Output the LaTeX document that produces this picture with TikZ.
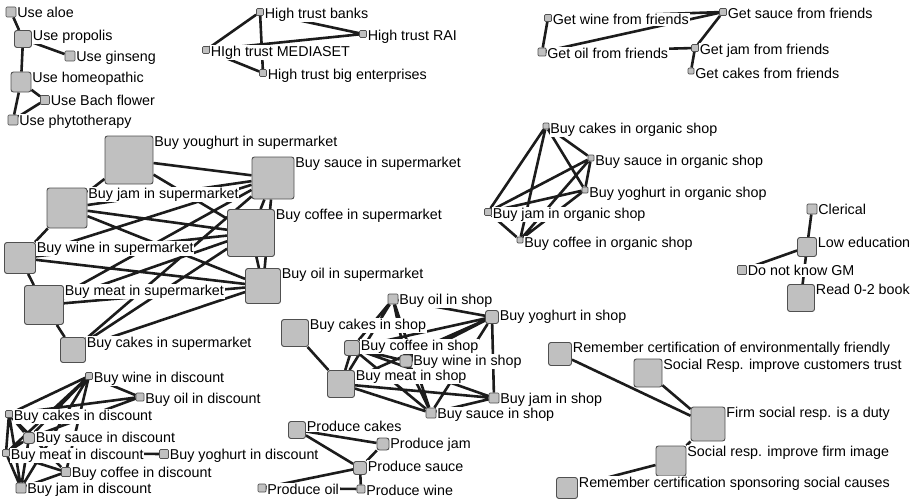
\documentclass[tikz,border=0pt]{standalone}
\usepackage{fontspec}
\setmainfont{Liberation Sans}
\usetikzlibrary{backgrounds}
\definecolor{boxgray}{RGB}{192,192,192}
\definecolor{boxline}{RGB}{80,80,80}
\definecolor{edgecol}{RGB}{28,28,28}

\begin{document}
\begin{tikzpicture}[x=1pt,y=-1pt,
  vtx/.style={draw=boxline,fill=boxgray,line width=0.9pt,rounded corners=2.5pt,minimum size=#1,inner sep=0pt},
  dot/.style={vtx=#1,rounded corners=1pt,line width=0.7pt},
  lbl/.style={fill=white,inner sep=0.8pt,font=\fontsize{14.3}{16}\selectfont,anchor=base west,yshift=-10.5pt},
  edge/.style={draw=edgecol,line width=2.6pt}]
\useasboundingbox (0,0) rectangle (923,503);

% herbal remedies
\node[dot=10] (aloe) at (11,12) {};
\node[vtx=17] (propolis) at (23,39) {};
\node[dot=10] (ginseng) at (70,56) {};
\node[vtx=20] (homeo) at (21,82) {};
\node[dot=9] (bach) at (45,100) {};
\node[dot=10] (phyto) at (13,120) {};

% trust
\node[dot=7] (banks) at (260,12) {};
\node[dot=7] (rai) at (363,34) {};
\node[dot=7] (mediaset) at (206,50) {};
\node[dot=7] (bigent) at (263,73) {};

% friends
\node[dot=7] (gwine) at (548,18) {};
\node[dot=7] (gsauce) at (723,12) {};
\node[dot=8] (goil) at (542,52) {};
\node[dot=7] (gjam) at (695,48) {};
\node[dot=6] (gcakes) at (691,71) {};

% supermarket
\node[vtx=48] (syog) at (129,160) {};
\node[vtx=42] (ssauce) at (273,178) {};
\node[vtx=40] (sjam) at (67,208) {};
\node[vtx=47] (scoffee) at (251,233) {};
\node[vtx=31] (swine) at (20,258) {};
\node[vtx=35] (soil) at (263,286) {};
\node[vtx=39] (smeat) at (44,305) {};
\node[vtx=25] (scakes) at (73,350) {};

% organic shop
\node[dot=6] (ocakes) at (546,126) {};
\node[dot=6] (osauce) at (591,158) {};
\node[dot=6] (oyog) at (585,190) {};
\node[dot=7] (ojam) at (488,212) {};
\node[dot=6] (ocoffee) at (520,240) {};

% education
\node[dot=10] (clerical) at (812,209) {};
\node[vtx=19] (lowedu) at (807,247) {};
\node[dot=9] (dnkgm) at (742,270) {};
\node[vtx=27] (read) at (801,298) {};

% shop
\node[dot=10] (hoil) at (393,299) {};
\node[vtx=13] (hyog) at (492,317) {};
\node[vtx=27] (hcakes) at (295,333) {};
\node[vtx=15] (hcoffee) at (352,348) {};
\node[vtx=12] (hwine) at (406,361) {};
\node[vtx=27] (hmeat) at (341,384) {};
\node[dot=10] (hjam) at (494,398) {};
\node[dot=10] (hsauce) at (431,413) {};

% social responsibility
\node[vtx=23] (envcert) at (560,354) {};
\node[vtx=28] (trust) at (648,373) {};
\node[vtx=34] (duty) at (708,424) {};
\node[vtx=30] (image) at (671,461) {};
\node[vtx=21] (sponsor) at (567,488) {};

% discount
\node[dot=7] (dwine) at (89,376) {};
\node[dot=8] (doil) at (140,397) {};
\node[dot=7] (dcakes) at (9,414) {};
\node[vtx=11] (dsauce) at (29,438) {};
\node[dot=7] (dmeat) at (6,453) {};
\node[dot=9] (dyog) at (164,454) {};
\node[dot=9] (dcoffee) at (66,472) {};
\node[dot=10] (djam) at (21,488) {};

% produce
\node[vtx=17] (pcakes) at (297,430) {};
\node[vtx=12] (pjam) at (383,444) {};
\node[vtx=13] (psauce) at (360,468) {};
\node[dot=8] (poil) at (262,488) {};
\node[dot=8] (pwine) at (361,489) {};

\begin{pgfonlayer}{background}
\draw[edge] (aloe) -- (propolis) (propolis) -- (ginseng) (propolis) -- (homeo)
  (homeo) -- (bach) (homeo) -- (phyto) (bach) -- (phyto);
\draw[edge] (banks) -- (mediaset) (banks) -- (bigent) (banks) -- (rai)
  (mediaset) -- (rai) (mediaset) -- (bigent);
\draw[edge] (gwine) -- (goil) (gwine) -- (gsauce) (goil) -- (gsauce)
  (goil) -- (gjam) (gsauce) -- (gjam) (gjam) -- (gcakes);
\draw[edge] (syog) -- (sjam) (syog) -- (ssauce) (syog) -- (scoffee)
  (sjam) -- (swine) (sjam) -- (ssauce) (sjam) -- (scoffee) (sjam) -- (soil)
  (swine) -- (smeat) (swine) -- (ssauce) (swine) -- (scoffee) (swine) -- (soil)
  (smeat) -- (scakes) (smeat) -- (ssauce) (smeat) -- (scoffee) (smeat) -- (soil)
  (scakes) -- (ssauce) (scakes) -- (scoffee) (scakes) -- (soil)
  (ssauce) -- (scoffee) (ssauce) -- (soil) (scoffee) -- (soil);
\draw[edge] (ocakes) -- (osauce) (ocakes) -- (oyog) (ocakes) -- (ojam) (ocakes) -- (ocoffee)
  (osauce) -- (oyog) (osauce) -- (ojam) (osauce) -- (ocoffee)
  (oyog) -- (ojam) (oyog) -- (ocoffee) (ojam) -- (ocoffee);
\draw[edge] (clerical) -- (lowedu) (lowedu) -- (dnkgm) (lowedu) -- (read);
\draw[edge] (hcakes) -- (hmeat) (hoil) -- (hyog) (hoil) -- (hcoffee) (hoil) -- (hmeat)
  (hoil) -- (hwine) (hoil) -- (hsauce) (hyog) -- (hcoffee) (hyog) -- (hwine)
  (hyog) -- (hjam) (hyog) -- (hsauce) (hyog) -- (hmeat) (hcoffee) -- (hmeat)
  (hcoffee) -- (hwine) (hcoffee) -- (hsauce) (hcoffee) -- (hjam)
  (hmeat) -- (hsauce) (hmeat) -- (hjam) (hjam) -- (hsauce) (hwine) -- (hsauce);
\draw[edge] (envcert) -- (duty) (trust) -- (duty) (duty) -- (image) (image) -- (sponsor);
\draw[edge] (dwine) -- (dcakes) (dwine) -- (dsauce) (dwine) -- (dmeat) (dwine) -- (dcoffee)
  (dwine) -- (djam) (dwine) -- (doil) (doil) -- (dcakes) (doil) -- (dsauce)
  (dcakes) -- (dmeat) (dcakes) -- (djam) (dcakes) -- (dsauce) (dcakes) -- (dcoffee)
  (dsauce) -- (dmeat) (dsauce) -- (djam) (dmeat) -- (djam) (dmeat) -- (dcoffee)
  (dcoffee) -- (djam) (dmeat) -- (dyog);
\draw[edge] (pcakes) -- (pjam) (pcakes) -- (psauce) (pjam) -- (psauce)
  (psauce) -- (poil) (poil) -- (pwine) (psauce) -- (pwine);
\end{pgfonlayer}

% labels
\node[lbl] (aloe-l) at (aloe.north east) {Use aloe};
\node[lbl] (propolis-l) at (propolis.north east) {Use propolis};
\node[lbl] (ginseng-l) at (ginseng.north east) {Use ginseng};
\node[lbl] (homeo-l) at (homeo.north east) {Use homeopathic};
\node[lbl] (bach-l) at (bach.north east) {Use Bach flower};
\node[lbl] (phyto-l) at (phyto.north east) {Use phytotherapy};
\node[lbl] (banks-l) at (banks.north east) {High trust banks};
\node[lbl] (rai-l) at (rai.north east) {High trust RAI};
\node[lbl] (mediaset-l) at (mediaset.north east) {HIgh trust MEDIASET};
\node[lbl] (bigent-l) at (bigent.north east) {High trust big enterprises};
\node[lbl] (gwine-l) at (gwine.north east) {Get wine from friends};
\node[lbl] (gsauce-l) at (gsauce.north east) {Get sauce from friends};
\node[lbl] (goil-l) at (goil.north east) {Get oil from friends};
\node[lbl] (gjam-l) at (gjam.north east) {Get jam from friends};
\node[lbl] (gcakes-l) at (gcakes.north east) {Get cakes from friends};
\node[lbl] (syog-l) at (syog.north east) {Buy youghurt in supermarket};
\node[lbl] (ssauce-l) at (ssauce.north east) {Buy sauce in supermarket};
\node[lbl] (sjam-l) at (sjam.north east) {Buy jam in supermarket};
\node[lbl] (scoffee-l) at (scoffee.north east) {Buy coffee in supermarket};
\node[lbl] (swine-l) at (swine.north east) {Buy wine in supermarket};
\node[lbl] (soil-l) at (soil.north east) {Buy oil in supermarket};
\node[lbl] (smeat-l) at (smeat.north east) {Buy meat in supermarket};
\node[lbl] (scakes-l) at (scakes.north east) {Buy cakes in supermarket};
\node[lbl] (ocakes-l) at (ocakes.north east) {Buy cakes in organic shop};
\node[lbl] (osauce-l) at (osauce.north east) {Buy sauce in organic shop};
\node[lbl] (oyog-l) at (oyog.north east) {Buy yoghurt in organic shop};
\node[lbl] (ojam-l) at (ojam.north east) {Buy jam in organic shop};
\node[lbl] (ocoffee-l) at (ocoffee.north east) {Buy coffee in organic shop};
\node[lbl] (clerical-l) at (clerical.north east) {Clerical};
\node[lbl] (lowedu-l) at (lowedu.north east) {Low education};
\node[lbl] (dnkgm-l) at (dnkgm.north east) {Do not know GM};
\node[lbl] (read-l) at (read.north east) {Read 0-2 book};
\node[lbl] (hoil-l) at (hoil.north east) {Buy oil in shop};
\node[lbl] (hyog-l) at (hyog.north east) {Buy yoghurt in shop};
\node[lbl] (hcakes-l) at (hcakes.north east) {Buy cakes in shop};
\node[lbl] (hcoffee-l) at (hcoffee.north east) {Buy coffee in shop};
\node[lbl] (hwine-l) at (hwine.north east) {Buy wine in shop};
\node[lbl] (hmeat-l) at (hmeat.north east) {Buy meat in shop};
\node[lbl] (hjam-l) at (hjam.north east) {Buy jam in shop};
\node[lbl] (hsauce-l) at (hsauce.north east) {Buy sauce in shop};
\node[lbl] (envcert-l) at (envcert.north east) {Remember certification of environmentally friendly};
\node[lbl] (trust-l) at (trust.north east) {Social Resp. improve customers trust};
\node[lbl] (duty-l) at (duty.north east) {Firm social resp. is a duty};
\node[lbl] (image-l) at (image.north east) {Social resp. improve firm image};
\node[lbl] (sponsor-l) at (sponsor.north east) {Remember certification sponsoring social causes};
\node[lbl] (dwine-l) at (dwine.north east) {Buy wine in discount};
\node[lbl] (doil-l) at (doil.north east) {Buy oil in discount};
\node[lbl] (dcakes-l) at (dcakes.north east) {Buy cakes in discount};
\node[lbl] (dsauce-l) at (dsauce.north east) {Buy sauce in discount};
\node[lbl] (dmeat-l) at (dmeat.north east) {Buy meat in discount};
\node[lbl] (dyog-l) at (dyog.north east) {Buy yoghurt in discount};
\node[lbl] (dcoffee-l) at (dcoffee.north east) {Buy coffee in discount};
\node[lbl] (djam-l) at (djam.north east) {Buy jam in discount};
\node[lbl] (pcakes-l) at (pcakes.north east) {Produce cakes};
\node[lbl] (pjam-l) at (pjam.north east) {Produce jam};
\node[lbl] (psauce-l) at (psauce.north east) {Produce sauce};
\node[lbl] (poil-l) at (poil.north east) {Produce oil};
\node[lbl] (pwine-l) at (pwine.north east) {Produce wine};

\end{tikzpicture}
\end{document}
